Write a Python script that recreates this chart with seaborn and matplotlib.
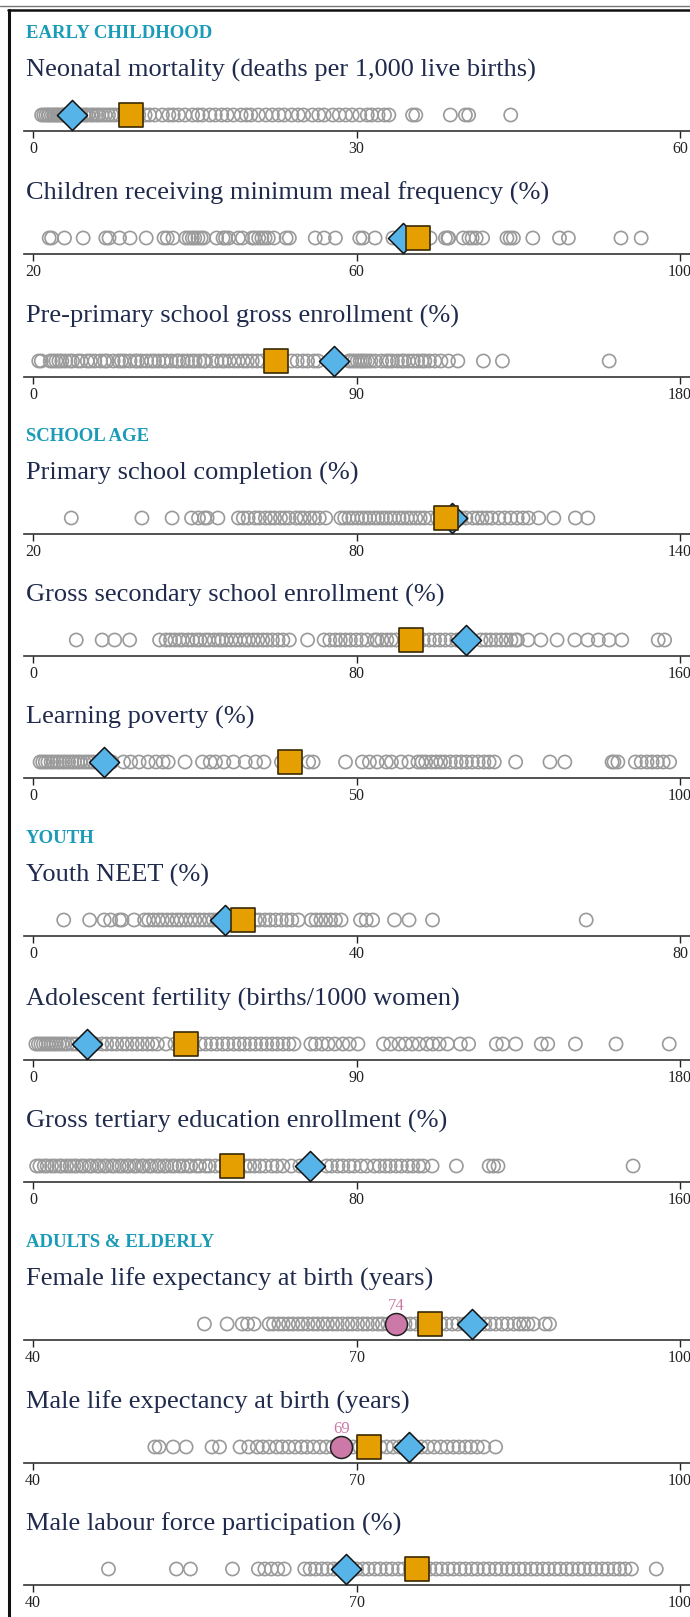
import numpy as np
import pandas as pd
import matplotlib
matplotlib.use("Agg")
import matplotlib.pyplot as plt
from matplotlib.lines import Line2D
import seaborn as sns

# ---- data ----
titles = [
    "Neonatal mortality (deaths per 1,000 live births)",
    "Children receiving minimum meal frequency (%)",
    "Pre-primary school gross enrollment (%)",
    "Primary school completion (%)",
    "Gross secondary school enrollment (%)",
    "Learning poverty (%)",
    "Youth NEET (%)",
    "Adolescent fertility (births/1000 women)",
    "Gross tertiary education enrollment (%)",
    "Female life expectancy at birth (years)",
    "Male life expectancy at birth (years)",
    "Male labour force participation (%)",
]
sections = {0: "EARLY CHILDHOOD", 3: "SCHOOL AGE", 6: "YOUTH", 9: "ADULTS & ELDERLY"}

x_min = [0, 20, 0, 20, 0, 0, 0, 0, 0, 40, 40, 40]
x_max = [60, 100, 180, 140, 160, 100, 80, 180, 160, 100, 100, 100]

neo = [0.8, 1.0, 1.2, 1.4, 1.5, 1.7, 1.9, 2.0, 2.2, 2.3, 2.5, 2.7, 2.8, 3.0, 3.1, 3.3, 3.6, 3.8, 4.0,
       4.2, 4.4, 4.7, 4.9, 5.1, 5.4, 5.6, 5.9, 6.1, 6.4, 6.7, 7.0, 7.3, 7.6, 8.0, 8.5, 9.1, 9.8, 10.4,
       10.8, 11.3, 12.0, 12.6, 13.0, 13.5, 14.1, 14.8, 15.3, 15.7, 16.4, 16.9, 17.5, 18.0, 18.6, 19.3,
       19.8, 20.2, 20.9, 21.6, 22.2, 22.8, 23.3, 24.0, 24.6, 25.1, 25.9, 26.5, 27.0, 27.8, 28.4, 29.0,
       29.6, 30.3, 31.0, 31.4, 32.0, 32.6, 33.0, 35.2, 35.5, 38.7, 40.1, 40.4, 44.3]
meal = [22.0, 22.3, 23.9, 26.2, 29.0, 29.4, 30.7, 32.0, 34.0, 36.2, 36.6, 37.3, 38.9, 39.3, 39.7, 40.0,
        40.4, 40.8, 41.1, 42.7, 43.5, 43.8, 44.2, 45.4, 45.9, 47.1, 47.4, 47.9, 48.3, 48.7, 49.1, 49.8,
        51.3, 51.7, 54.9, 56.0, 57.4, 60.4, 60.8, 62.3, 64.5, 66.0, 67.0, 69.1, 71.0, 71.3, 71.4, 73.2,
        73.9, 74.3, 74.8, 75.6, 78.6, 79.0, 79.4, 81.8, 85.1, 86.2, 92.7, 95.2]
pre = [1.6, 2.3, 4.8, 5.6, 6.4, 7.2, 8.0, 9.1, 10.3, 11.0, 12.5, 13.4, 15.1, 16.0, 17.2, 18.8, 19.9,
       20.6, 22.3, 23.8, 24.6, 25.5, 27.0, 28.4, 29.1, 30.2, 31.6, 32.9, 33.8, 35.0, 36.3, 37.1, 38.5,
       39.9, 40.6, 41.8, 43.0, 44.2, 45.1, 46.3, 47.5, 48.0, 49.8, 51.2, 52.5, 53.3, 54.6, 56.0, 57.1,
       58.5, 59.6, 61.0, 62.4, 63.8, 72.0, 73.5, 75.1, 76.4, 78.2, 79.3, 87.9, 88.6, 89.4, 90.2, 91.0,
       91.6, 92.3, 93.1, 94.0, 95.2, 97.0, 98.3, 99.1, 100.0, 101.4, 102.6, 103.3, 104.5, 105.8, 107.0,
       108.2, 109.0, 110.3, 111.8, 113.5, 115.6, 118.2, 125.3, 130.6, 160.3]
prim = [27.1, 40.2, 45.8, 49.4, 50.7, 51.8, 52.3, 54.3, 58.1, 59.0, 59.9, 61.2, 62.0, 63.1, 64.0, 64.8,
        65.9, 66.7, 67.5, 68.8, 69.6, 70.3, 71.4, 72.2, 73.1, 74.3, 77.1, 77.8, 78.6, 79.3, 80.2, 81.0,
        81.7, 82.4, 83.3, 84.0, 84.8, 85.5, 86.3, 87.0, 87.9, 88.6, 89.4, 90.1, 91.0, 91.8, 92.6, 93.7,
        95.0, 96.2, 97.5, 98.5, 99.4, 100.3, 101.6, 102.5, 103.3, 104.2, 105.1, 106.4, 107.5, 108.6,
        109.8, 110.9, 111.9, 113.8, 116.6, 120.6, 122.9]
sec = [10.7, 17.1, 20.2, 23.9, 31.3, 32.9, 34.0, 35.1, 36.2, 37.0, 38.3, 39.4, 40.5, 41.3, 42.6, 43.5,
       44.8, 45.9, 46.7, 47.8, 49.0, 50.1, 51.2, 52.4, 53.3, 54.5, 55.6, 56.8, 57.9, 59.2, 60.6, 61.8,
       63.4, 67.9, 72.0, 73.4, 74.8, 76.0, 77.3, 78.5, 79.9, 81.2, 82.6, 84.5, 85.1, 86.3, 87.5, 88.6,
       89.8, 92.0, 95.0, 96.5, 98.0, 99.3, 100.6, 102.0, 103.4, 104.8, 106.2, 108.5, 110.8, 112.0,
       113.2, 114.5, 115.8, 117.0, 118.2, 119.3, 119.8, 122.4, 125.6, 129.6, 134.0, 137.2, 139.8,
       142.5, 145.6, 154.6, 156.2]
lpov = [1.1, 1.5, 1.9, 2.3, 2.8, 3.2, 3.7, 4.1, 4.6, 5.0, 5.5, 6.0, 6.4, 6.9, 7.3, 7.9, 8.4, 8.9, 9.4,
        10.5, 12.2, 14.0, 15.1, 16.4, 17.8, 19.0, 20.1, 20.9, 23.5, 26.2, 27.4, 28.2, 29.5, 31.0, 32.8,
        34.4, 35.7, 38.4, 42.6, 43.3, 48.3, 50.9, 52.0, 53.2, 54.6, 55.4, 56.9, 58.1, 59.5, 60.1, 60.7,
        61.6, 62.3, 63.0, 63.6, 64.5, 65.4, 66.2, 67.0, 67.9, 68.8, 69.7, 70.5, 71.3, 74.6, 79.9, 82.2,
        89.5, 89.8, 90.4, 93.1, 94.0, 94.9, 95.7, 96.5, 97.4, 98.4]
neet = [3.8, 7.0, 8.8, 9.6, 10.7, 11.0, 12.5, 13.8, 14.3, 14.9, 15.5, 16.0, 16.6, 17.2, 17.8, 18.3, 18.9,
        19.5, 20.0, 20.6, 21.2, 21.8, 22.3, 22.8, 24.5, 25.1, 27.5, 28.0, 28.7, 29.3, 30.0, 30.7, 31.4,
        32.0, 32.8, 34.4, 35.0, 35.6, 36.2, 36.8, 37.4, 38.1, 40.5, 41.2, 42.0, 44.7, 46.5, 49.4, 68.4]
fert = [0.8, 1.5, 2.2, 2.9, 3.6, 4.3, 5.0, 5.8, 6.5, 7.3, 8.1, 8.9, 9.7, 10.9, 12.0, 13.5, 17.4, 19.2,
        20.5, 22.0, 23.3, 24.9, 26.1, 27.6, 29.0, 30.4, 31.9, 33.2, 34.6, 37.0, 39.5, 41.2, 46.5, 48.0,
        49.6, 51.1, 52.8, 54.2, 55.9, 57.4, 58.8, 60.4, 61.9, 63.5, 65.0, 66.6, 68.0, 69.6, 71.2, 72.6,
        77.3, 78.6, 80.4, 82.1, 84.0, 86.2, 88.0, 90.4, 97.5, 99.5, 101.8, 103.6, 105.5, 107.4, 109.6,
        111.2, 113.0, 115.3, 118.9, 121.2, 128.9, 130.7, 134.3, 141.4, 143.2, 150.9, 162.2, 177.0]
tert = [0.9, 1.7, 2.8, 3.5, 4.6, 5.4, 6.5, 7.1, 8.3, 9.2, 10.1, 10.8, 12.0, 12.7, 13.9, 14.5, 15.8, 16.4,
        17.6, 18.2, 19.5, 20.1, 21.3, 22.0, 23.2, 23.8, 25.0, 25.6, 26.9, 27.4, 28.7, 29.3, 30.6, 31.2,
        32.4, 33.1, 34.3, 35.0, 36.2, 37.1, 38.3, 39.0, 40.4, 41.2, 42.7, 43.6, 45.1, 46.5, 52.5, 53.6,
        54.8, 56.1, 57.4, 59.1, 60.3, 61.8, 63.9, 66.0, 72.6, 73.8, 75.4, 76.6, 78.2, 79.4, 81.1, 82.5,
        84.4, 85.7, 87.1, 88.3, 89.8, 91.1, 92.7, 93.9, 95.4, 96.5, 98.7, 104.7, 112.8, 113.9, 115.0, 148.4]
fle = [55.9, 58.0, 59.4, 59.9, 60.5, 61.9, 62.3, 62.8, 63.2, 63.7, 64.1, 64.6, 65.0, 65.5, 66.0, 66.4,
       66.9, 67.3, 67.8, 68.2, 68.7, 69.2, 69.6, 70.1, 70.6, 71.0, 71.5, 72.0, 72.4, 72.9, 73.4, 74.0,
       74.5, 75.0, 75.5, 76.1, 76.6, 77.2, 77.8, 78.3, 78.9, 79.4, 80.0, 80.6, 81.2, 81.9, 82.4, 82.9,
       83.5, 84.0, 84.6, 85.1, 85.5, 85.9, 86.4, 87.5, 87.9]
mle = [51.3, 51.7, 53.0, 54.2, 56.6, 57.3, 59.2, 60.0, 60.8, 61.3, 61.9, 62.6, 63.1, 63.7, 64.3, 64.9,
       65.4, 66.0, 66.6, 67.2, 67.8, 68.3, 69.1, 69.7, 70.3, 70.8, 71.6, 72.2, 72.8, 73.4, 74.0, 74.6,
       75.3, 76.0, 76.6, 77.2, 77.8, 78.4, 79.0, 79.5, 80.1, 80.6, 81.2, 81.8, 82.9]
mlab = [47.0, 53.3, 54.6, 58.5, 60.9, 61.5, 62.1, 62.7, 63.3, 65.2, 65.7, 66.2, 66.8, 67.3, 67.9, 68.4,
        69.5, 70.0, 70.6, 71.1, 71.7, 72.2, 72.8, 73.3, 73.9, 74.4, 75.0, 76.3, 76.8, 77.4, 77.9, 78.5,
        79.0, 79.6, 80.1, 80.7, 81.2, 81.8, 82.3, 82.9, 83.4, 84.0, 84.5, 85.1, 85.6, 86.2, 86.7, 87.3,
        87.8, 88.4, 88.9, 89.5, 90.0, 90.6, 91.1, 91.7, 92.2, 92.8, 93.3, 93.9, 94.4, 94.9, 95.5, 97.8]
others = [neo, meal, pre, prim, sec, lpov, neet, fert, tert, fle, mle, mlab]

diamond_val = [3.6, 65.8, 83.7, 97.8, 107.0, 11.0, 23.7, 15.1, 68.6, 80.7, 74.9, 69.0]
square_val = [9.1, 67.6, 67.6, 96.6, 93.6, 39.7, 26.0, 42.7, 49.2, 76.8, 71.2, 75.6]
pink_val = [None, None, None, None, None, None, None, None, None, 73.7, 68.6, None]

# ---- layout (pixels in a 690 x 1617 figure) ----
W, H = 690, 1617
axis_y = [131, 254, 377, 534, 656, 778, 936, 1060, 1182, 1340, 1463, 1585]

sns.set_style("white")
plt.rcParams["font.family"] = ["Liberation Serif", "DejaVu Serif"]

navy = "#1f2a4d"
teal = "#1a9bb8"
grey = "#9a9a9a"

fig = plt.figure(figsize=(W / 100, H / 100), dpi=100)

for i, title in enumerate(titles):
    lo, hi = x_min[i], x_max[i]
    rng = hi - lo
    ay = axis_y[i]
    ax = fig.add_axes([24 / W, 1 - ay / H, 666 / W, 40 / H])

    df = pd.DataFrame({"x": others[i], "y": 16.0})
    sns.scatterplot(data=df, x="x", y="y", ax=ax, marker="o", s=90,
                    facecolor="none", edgecolor=grey, linewidth=1.2, legend=False)
    sns.scatterplot(x=[diamond_val[i]], y=[16.0], ax=ax, marker="D", s=235,
                    color="#56B4E9", edgecolor="#111111", linewidth=1.1, legend=False, zorder=4)
    sns.scatterplot(x=[square_val[i]], y=[16.0], ax=ax, marker="s", s=280,
                    color="#E69F00", edgecolor="#3a2a05", linewidth=1.2, legend=False, zorder=5)
    if pink_val[i] is not None:
        sns.scatterplot(x=[pink_val[i]], y=[16.0], ax=ax, marker="o", s=250,
                        color="#CC79A7", edgecolor="#222222", linewidth=1.1, legend=False, zorder=6)
        ax.text(pink_val[i], 30, f"{round(pink_val[i])}", color="#CC79A7", fontsize=12,
                ha="center", va="baseline")

    ax.set_xlim(lo - 9 / 647 * rng, hi + 10 / 647 * rng)
    ax.set_ylim(0, 40)
    ax.set_xticks([lo, (lo + hi) / 2, hi])
    ax.set_xticklabels([f"{lo}", f"{int((lo + hi) / 2)}", f"{hi}"])
    ax.set_yticks([])
    ax.set_xlabel("")
    ax.set_ylabel("")
    ax.tick_params(axis="x", length=5, width=1, pad=2, labelsize=11.5, colors="#222222",
                   direction="out", bottom=True)
    for s in ["left", "right", "top"]:
        ax.spines[s].set_visible(False)
    ax.spines["bottom"].set_color("#333333")
    ax.spines["bottom"].set_linewidth(1.2)
    ax.patch.set_alpha(0)

    fig.text(26 / W, 1 - (ay - 54) / H, title, color=navy, fontsize=19,
             ha="left", va="baseline")
    if i in sections:
        fig.text(26 / W, 1 - (ay - 93) / H, sections[i], color=teal, fontsize=13.5,
                 fontweight="bold", ha="left", va="baseline")

# card border
fig.add_artist(Line2D([0, 1], [1 - 6 / H, 1 - 6 / H], transform=fig.transFigure,
                      color="#777777", linewidth=1))
fig.add_artist(Line2D([8 / W, 1], [1 - 10 / H, 1 - 10 / H], transform=fig.transFigure,
                      color="#111111", linewidth=1.8))
fig.add_artist(Line2D([9 / W, 9 / W], [1 - 10 / H, 0], transform=fig.transFigure,
                      color="#111111", linewidth=2.2))

fig.savefig("out.png", dpi=100)
